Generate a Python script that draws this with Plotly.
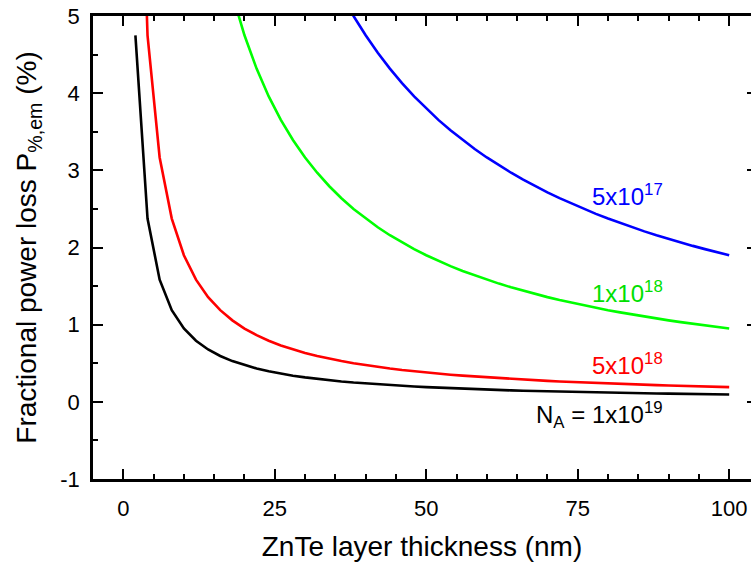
import plotly.graph_objects as go

# ZnTe layer thickness (nm)
x_black = [2, 4, 6, 8, 10, 12, 14, 16, 18, 20, 22, 24, 26, 28, 30, 32, 34, 36, 38, 40,
           42, 44, 46, 48, 50, 52, 54, 56, 58, 60, 62, 64, 66, 68, 70, 72, 74, 76, 78, 80,
           82, 84, 86, 88, 90, 92, 94, 96, 98, 100]
y_black = [4.75, 2.375, 1.583, 1.188, 0.95, 0.792, 0.679, 0.594, 0.528, 0.475, 0.432, 0.396,
           0.365, 0.339, 0.317, 0.297, 0.279, 0.264, 0.25, 0.238, 0.226, 0.216, 0.207, 0.198,
           0.19, 0.183, 0.176, 0.170, 0.164, 0.158, 0.153, 0.148, 0.144, 0.140, 0.136, 0.132,
           0.128, 0.125, 0.122, 0.119, 0.116, 0.113, 0.110, 0.108, 0.106, 0.103, 0.101, 0.099,
           0.097, 0.095]

x_red = x_black
y_red = [9.5, 4.75, 3.167, 2.375, 1.9, 1.583, 1.357, 1.188, 1.056, 0.95, 0.864, 0.792, 0.731,
         0.679, 0.633, 0.594, 0.559, 0.528, 0.5, 0.475, 0.452, 0.432, 0.413, 0.396, 0.38,
         0.365, 0.352, 0.339, 0.328, 0.317, 0.306, 0.297, 0.288, 0.279, 0.271, 0.264, 0.257,
         0.25, 0.244, 0.238, 0.232, 0.226, 0.221, 0.216, 0.211, 0.207, 0.202, 0.198, 0.194, 0.19]

x_green = [18, 20, 22, 24, 26, 28, 30, 32, 34, 36, 38, 40, 42, 44, 46, 48, 50, 52, 54, 56, 58,
           60, 62, 64, 66, 68, 70, 72, 74, 76, 78, 80, 82, 84, 86, 88, 90, 92, 94, 96, 98, 100]
y_green = [5.278, 4.75, 4.318, 3.958, 3.654, 3.393, 3.167, 2.969, 2.794, 2.639, 2.5, 2.375,
           2.262, 2.159, 2.065, 1.979, 1.9, 1.827, 1.759, 1.696, 1.638, 1.583, 1.532, 1.484,
           1.439, 1.397, 1.357, 1.319, 1.284, 1.25, 1.218, 1.188, 1.159, 1.131, 1.105, 1.080,
           1.056, 1.033, 1.011, 0.990, 0.969, 0.95]

x_blue = [36, 38, 40, 42, 44, 46, 48, 50, 52, 54, 56, 58, 60, 62, 64, 66, 68, 70, 72, 74, 76,
          78, 80, 82, 84, 86, 88, 90, 92, 94, 96, 98, 100]
y_blue = [5.278, 5.0, 4.75, 4.524, 4.318, 4.130, 3.958, 3.8, 3.654, 3.519, 3.393, 3.276, 3.167,
          3.065, 2.969, 2.879, 2.794, 2.714, 2.639, 2.568, 2.5, 2.436, 2.375, 2.317, 2.262,
          2.209, 2.159, 2.111, 2.065, 2.021, 1.979, 1.939, 1.9]

y_tickvals = [-1, 0, 1, 2, 3, 4, 5]
y_ticktext = ["-1", "0", "1", "2", "3", "4", "5"]

labels = ["5x10<sup>17</sup>", "1x10<sup>18</sup>", "5x10<sup>18</sup>",
          "N<sub>A</sub> = 1x10<sup>19</sup>"]
label_x = [89.4, 89.4, 89.4, 89.4]
label_y = [2.68, 1.42, 0.49, -0.17]
label_colors = ["#0000FF", "#00E000", "#FF0000", "#000000"]

FONT = "Liberation Sans, Arial, sans-serif"

fig = go.Figure()
for xs, ys, col in [(x_black, y_black, "#000000"), (x_red, y_red, "#FF0000"),
                    (x_green, y_green, "#00FF00"), (x_blue, y_blue, "#0000FF")]:
    fig.add_trace(go.Scatter(x=xs, y=ys, mode="lines",
                             line=dict(color=col, width=2.6), showlegend=False))
# carrier trace for right-side tick axis
fig.add_trace(go.Scatter(x=[], y=[], yaxis="y2", showlegend=False, hoverinfo="skip"))

for t, lx, ly, c in zip(labels, label_x, label_y, label_colors):
    fig.add_annotation(x=lx, y=ly, text=t, showarrow=False, xanchor="right",
                       yanchor="middle", font=dict(size=24, color=c, family=FONT))

fig.update_layout(
    width=751, height=564,
    margin=dict(l=93, r=0, t=16, b=85, autoexpand=False),
    plot_bgcolor="white", paper_bgcolor="white",
    font=dict(family=FONT, color="black"),
    xaxis=dict(
        range=[-5, 103.6], showgrid=False, zeroline=False, automargin=False,
        showline=True, linecolor="black", linewidth=2.6, mirror="ticks",
        ticks="inside", ticklen=10, tickwidth=2.4, tickcolor="black",
        tick0=0, dtick=25, ticklabelstandoff=8, ticklabeloverflow="allow",
        minor=dict(ticks="inside", ticklen=5, tickwidth=2.4, tickcolor="black", dtick=5, tick0=0),
        tickfont=dict(size=22, family=FONT),
        title=dict(text="ZnTe layer thickness (nm)", font=dict(size=28, family=FONT), standoff=17),
    ),
    yaxis=dict(
        range=[-1, 5], showgrid=False, zeroline=False, automargin=False,
        showline=True, linecolor="black", linewidth=2.6,
        ticks="inside", ticklen=10, tickwidth=2.4, tickcolor="black",
        tickmode="array", tickvals=y_tickvals, ticktext=y_ticktext,
        ticklabelstandoff=6, ticklabeloverflow="allow",
        minor=dict(ticks="inside", ticklen=5, tickwidth=2.4, tickcolor="black", dtick=0.5, tick0=0),
        tickfont=dict(size=22, family=FONT),
        title=dict(text="Fractional power loss P<sub>%,em</sub> (%)",
                   font=dict(size=28, family=FONT), standoff=16),
    ),
    yaxis2=dict(
        overlaying="y", side="right", range=[-1, 5], showgrid=False, zeroline=False,
        automargin=False,
        showline=False, showticklabels=False, ticks="inside", ticklen=4, tickwidth=2.4,
        tickcolor="black", tick0=0, dtick=1,
    ),
)

# remove the default page margin so the figure sits at the window's top-left corner
fig.write_html("out.html", config={"displayModeBar": False},
               post_script="document.body.style.margin='0';")
